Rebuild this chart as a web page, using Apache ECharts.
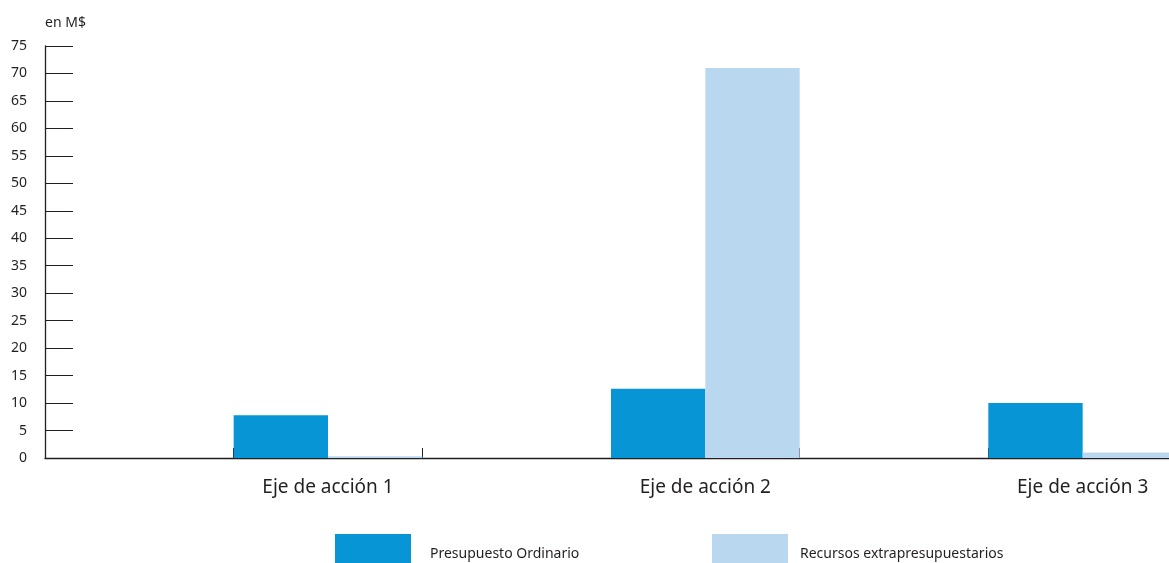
<!DOCTYPE html>
<html>
<head>
<meta charset="utf-8">
<script src="https://cdn.jsdelivr.net/npm/echarts@6/dist/echarts.min.js"></script>
<style>
  html, body { margin: 0; padding: 0; background: #ffffff; }
  #chart { width: 1169px; height: 563px; }
</style>
</head>
<body>
<div id="chart"></div>
<script>
// Gasto por eje de acción, en millones de dólares
const categories = ['Eje de acción 1', 'Eje de acción 2', 'Eje de acción 3'];
const presupuestoOrdinario = [7.8, 12.6, 10.0];
const recursosExtra = [0.3, 71.0, 1.0];
const seriesNames = ['Presupuesto Ordinario', 'Recursos extrapresupuestarios'];
const yTicks = { min: 0, max: 75, step: 5 };

const ink = '#231f20';
const font = '"Noto Sans", "Open Sans", sans-serif';

// Each axis slot is split in two: an empty half, then the half that holds the bars.
const slots = [];
const ordSlots = [];
const extSlots = [];
categories.forEach((c, i) => {
  slots.push('');
  ordSlots.push(null);
  extSlots.push(null);
  slots.push(c);
  ordSlots.push(presupuestoOrdinario[i]);
  extSlots.push(recursosExtra[i]);
});

const chart = echarts.init(document.getElementById('chart'), null, { renderer: 'canvas' });

function legendAt(left, name, textGap) {
  return {
    left: left,
    top: 534,
    padding: 0,
    itemWidth: 76,
    itemHeight: 40,
    itemGap: 0,
    icon: 'rect',
    selectedMode: false,
    data: [name],
    textStyle: { color: ink, fontFamily: font, fontSize: 14, padding: [7, 0, 0, textGap] }
  };
}

chart.setOption({
  animation: false,
  backgroundColor: '#ffffff',
  // the plot runs a little past the right edge of the canvas
  grid: { left: 45, width: 1132, top: 46, bottom: 105, containLabel: false, outerBoundsMode: 'none' },
  legend: [
    legendAt(335, seriesNames[0], 14),
    legendAt(712, seriesNames[1], 7)
  ],
  xAxis: {
    type: 'category',
    data: slots,
    boundaryGap: true,
    z: 0,
    axisLine: { show: true, lineStyle: { color: ink, width: 1.3 } },
    axisTick: { show: true, inside: true, length: 10, interval: 0, lineStyle: { color: ink, width: 1 } },
    axisLabel: {
      interval: 0,
      color: ink,
      fontFamily: font,
      fontSize: 19,
      margin: 20
    },
    splitLine: { show: false }
  },
  yAxis: {
    type: 'value',
    min: yTicks.min,
    max: yTicks.max,
    interval: yTicks.step,
    name: 'en M$',
    nameLocation: 'end',
    nameGap: 16,
    nameTextStyle: { color: ink, fontFamily: font, fontSize: 14, align: 'left' },
    axisLine: { show: true, lineStyle: { color: ink, width: 1.3 } },
    axisTick: { show: true, inside: true, length: 28, lineStyle: { color: ink, width: 1 } },
    axisLabel: { color: ink, fontFamily: font, fontSize: 14, margin: 18 },
    splitLine: { show: false }
  },
  series: [
    {
      name: seriesNames[0],
      type: 'bar',
      z: 5,
      data: ordSlots,
      barGap: '0%',
      barCategoryGap: '0%',
      itemStyle: { color: '#0795d6' }
    },
    {
      name: seriesNames[1],
      type: 'bar',
      z: 5,
      data: extSlots,
      barGap: '0%',
      barCategoryGap: '0%',
      itemStyle: { color: '#b9d8f0' }
    }
  ]
});
</script>
</body>
</html>
